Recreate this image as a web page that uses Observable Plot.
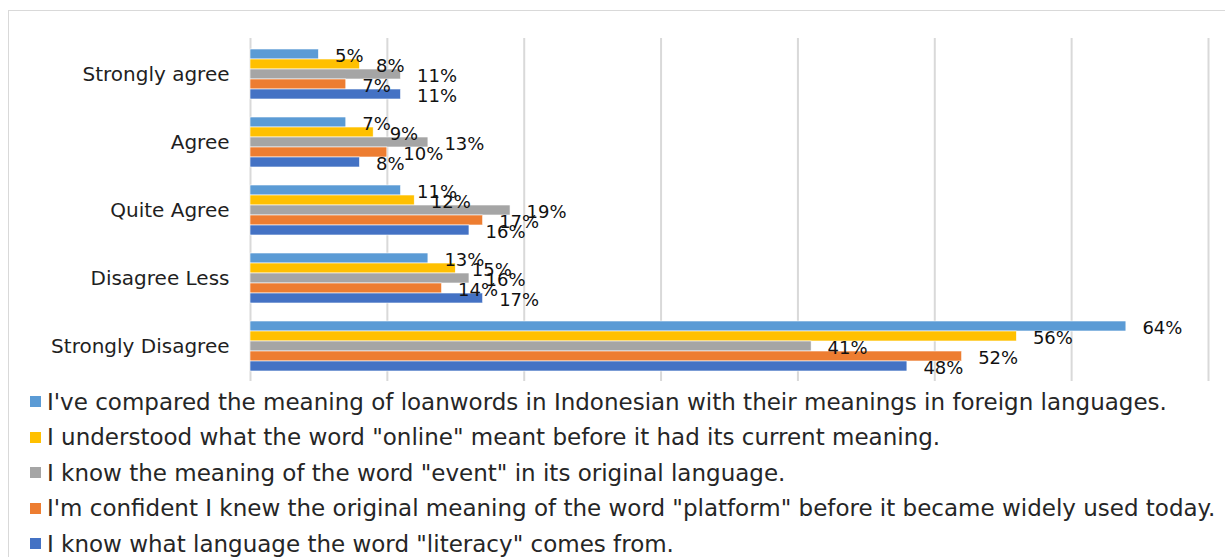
<!DOCTYPE html>
<html>
<head>
<meta charset="utf-8">
<script src="https://cdn.jsdelivr.net/npm/d3@7"></script>
<script src="https://cdn.jsdelivr.net/npm/@observablehq/plot@0.6"></script>
<style>
  html, body { margin: 0; padding: 0; background: #fff; overflow: hidden; }
  #wrap { position: relative; width: 1225px; height: 557px; overflow: hidden; font-family: "DejaVu Sans", sans-serif; background: #fff; }
  #frame { position: absolute; left: 8px; top: 10px; width: 1400px; height: 800px; border: 1px solid #d9d9d9; box-sizing: border-box; }
  #grid, #chart { position: absolute; left: 0; top: 0; }
  #legend { position: absolute; left: 30px; top: 384px; }
  .row { display: flex; align-items: center; height: 35.5px; white-space: nowrap; font-size: 23px; color: #262626; }
  .sw { width: 11px; height: 11px; margin-right: 6px; flex: none; }
</style>
</head>
<body>
<div id="wrap">
  <div id="frame"></div>
  <div id="grid"></div>
  <div id="chart"></div>
  <div id="legend"></div>
</div>
<script>
// ---- data ----
const categories = ["Strongly agree", "Agree", "Quite Agree", "Disagree Less", "Strongly Disagree"];
const seriesNames = [
  "I've compared the meaning of loanwords in Indonesian with their meanings in foreign languages.",
  "I understood what the word \"online\" meant before it had its current meaning.",
  "I know the meaning of the word \"event\" in its original language.",
  "I'm confident I knew the original meaning of the word \"platform\" before it became widely used today.",
  "I know what language the word \"literacy\" comes from."
];
const seriesColors = ["#5B9BD5", "#FFC000", "#A5A5A5", "#ED7D31", "#4472C4"];
const comparedValues = [5, 7, 11, 13, 64];
const onlineValues   = [8, 9, 12, 15, 56];
const eventValues    = [11, 13, 19, 16, 41];
const platformValues = [7, 10, 17, 14, 52];
const literacyValues = [11, 8, 16, 17, 48];
const gridTicks = [0, 10, 20, 30, 40, 50, 60, 70];

const seriesValues = [comparedValues, onlineValues, eventValues, platformValues, literacyValues];
const rows = [];
categories.forEach((c, ci) => {
  seriesNames.forEach((s, si) => {
    rows.push({category: c, series: s, value: seriesValues[si][ci]});
  });
});

// ---- layout ----
const W = 1225, H = 390, mT = 38, mB = H - 381, mL = 250, mR = 17;
const font = "'DejaVu Sans', sans-serif";

const grid = Plot.plot({
  width: W, height: H, marginTop: mT, marginBottom: mB, marginLeft: mL, marginRight: mR,
  x: {domain: [0, 70], axis: null},
  style: {background: "transparent", overflow: "visible"},
  marks: [
    Plot.ruleX(gridTicks, {x: d => d, stroke: "#d9d9d9", strokeWidth: 2})
  ]
});
document.getElementById("grid").appendChild(grid);

const chart = Plot.plot({
  width: W, height: H, marginTop: mT, marginBottom: mB, marginLeft: mL, marginRight: mR,
  x: {domain: [0, 70], axis: null},
  y: {domain: seriesNames, axis: null, padding: 0},
  fy: {domain: categories, paddingInner: 0.27, paddingOuter: 0.135, label: null, axis: "left", tickSize: 0, tickPadding: 21},
  color: {domain: seriesNames, range: seriesColors},
  style: {fontFamily: font, fontSize: "20px", color: "#1f1f1f", background: "transparent", overflow: "visible"},
  marks: [
    Plot.barX(rows, {x: "value", y: "series", fy: "category", fill: "series", stroke: "#ffffff", strokeWidth: 0.6}),
    Plot.text(rows, {x: "value", y: "series", fy: "category", text: d => d.value + "%", dx: 16, dy: 2, textAnchor: "start", fontSize: 18, fill: "#111"})
  ]
});
document.getElementById("chart").appendChild(chart);

// ---- legend ----
const legend = document.getElementById("legend");
seriesNames.forEach((s, i) => {
  const row = document.createElement("div");
  row.className = "row";
  const sw = document.createElement("span");
  sw.className = "sw";
  sw.style.background = seriesColors[i];
  const t = document.createElement("span");
  t.textContent = s;
  row.appendChild(sw);
  row.appendChild(t);
  legend.appendChild(row);
});
</script>
</body>
</html>
